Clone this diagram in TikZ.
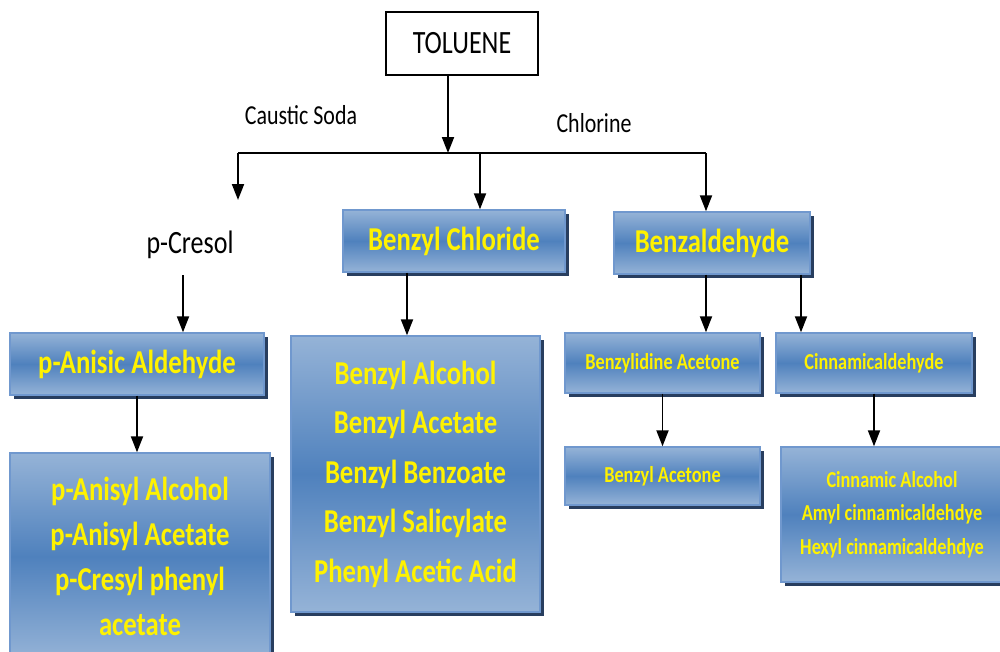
\documentclass[tikz,border=0pt]{standalone}
\usepackage{fontspec}
\setmainfont{Carlito}[FakeStretch=0.8]
\usetikzlibrary{arrows.meta,shadows}
\definecolor{boxlight}{RGB}{149,179,215}
\definecolor{boxmid}{RGB}{79,129,189}
\definecolor{boxline}{RGB}{112,152,206}
\definecolor{boxshadow}{RGB}{40,62,95}
\tikzset{
	chem/.style={draw=boxline,line width=0.8pt,top color=boxlight,bottom color=boxlight,middle color=boxmid,
		text=yellow,align=center,font=\bfseries\fontsize{19}{25.6}\selectfont,
		drop shadow={shadow xshift=2.5pt,shadow yshift=-2.5pt,fill=boxshadow,opacity=1}},
	minor/.style={font=\bfseries\fontsize{13}{19}\selectfont},
	arr/.style={-{Triangle[width=0.24cm,length=0.32cm]},line width=1.1pt},
	lbl/.style={font=\fontsize{15.6}{18}\selectfont}
}
\begin{document}
\begin{tikzpicture}[x=0.02cm,y=-0.02cm]
		      \clip (0,0) rectangle (1000,652);
		      \node[draw,line width=0.8pt,minimum width=3.04cm,minimum height=1.26cm,font=\fontsize{18.5}{22}\selectfont] (toluene) at (462,43.5) {TOLUENE};
		      \node[lbl] (soda) at (301,115) {Caustic Soda};
		      \node[lbl] (chlorine) at (594,123) {Chlorine};
		      \node[font=\fontsize{18.5}{22}\selectfont,minimum height=1.2cm] (cresol) at (190,245) {p-Cresol};
		      \node[chem,minimum width=4.44cm,minimum height=1.24cm] (chloride) at (454,241) {Benzyl Chloride};
		      \node[chem,minimum width=3.92cm,minimum height=1.24cm] (benzald) at (712,243) {Benzaldehyde};
		      \node[chem,minimum width=5.08cm,minimum height=1.24cm] (anisic) at (137,364) {p-Anisic Aldehyde};
		      \node[chem,minimum width=5.2cm,minimum height=4.14cm] (anisyl) at (140,556.5) {p-Anisyl Alcohol\\p-Anisyl Acetate\\p-Cresyl phenyl\\acetate};
		      \node[chem,minimum width=4.98cm,minimum height=5.52cm,font=\bfseries\fontsize{19}{28.2}\selectfont] (alcohol) at (415.5,474) {Benzyl Alcohol\\Benzyl Acetate\\Benzyl Benzoate\\Benzyl Salicylate\\Phenyl Acetic Acid};
		      \node[chem,minor,minimum width=3.9cm,minimum height=1.2cm] (benzylidine) at (662.5,363) {Benzylidine Acetone};
		      \node[chem,minor,minimum width=3.92cm,minimum height=1.2cm] (cinnamical) at (874,363) {Cinnamicaldehyde};
		      \node[chem,minor,minimum width=3.9cm,minimum height=1.16cm] (benzylacetone) at (662.5,476) {Benzyl Acetone};
		      \node[chem,minor,minimum width=4.44cm,minimum height=2.7cm] (cinnamic) at (892,514.5) {Cinnamic Alcohol\\Amyl cinnamicaldehdye\\Hexyl cinnamicaldehdye};
		      % branch points
		      \coordinate (jn) at (448,153);
		      \coordinate (barL) at (238,153);
		      \coordinate (barR) at (706,153);
		      \coordinate (b2) at (480,153);
		      \coordinate (cresolin) at (238,200);
		      \coordinate (x1) at (183,0);
		      \coordinate (x2) at (407,0);
		      \coordinate (x3) at (801,0);
		      \draw[arr] (toluene.south -| jn) -- (jn);
		      \draw[line width=1.1pt] (barL) -- (barR);
		      \draw[arr] (barL) -- (cresolin);
		      \draw[arr] (b2) -- (b2 |- chloride.north);
		      \draw[arr] (barR) -- (barR |- benzald.north);
		      \draw[arr] (cresol.south -| x1) -- (x1 |- anisic.north);
		      \draw[arr] (chloride.south -| x2) -- (x2 |- alcohol.north);
		      \draw[arr] (benzald.south -| barR) -- (barR |- benzylidine.north);
		      \draw[arr] (benzald.south -| x3) -- (x3 |- cinnamical.north);
		      \draw[arr] (anisic.south) -- (anisic.south |- anisyl.north);
		      \draw[arr] (benzylidine.south) -- (benzylacetone.north);
		      \draw[arr] (cinnamical.south) -- (cinnamical.south |- cinnamic.north);
	      \end{tikzpicture}
\end{document}
